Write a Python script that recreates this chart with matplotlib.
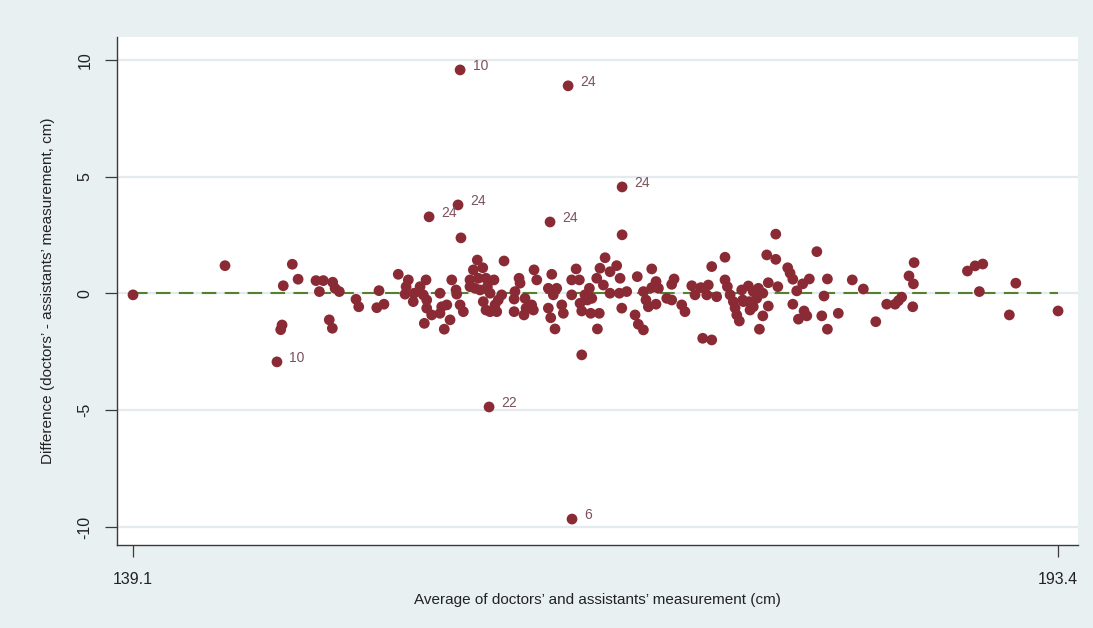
import matplotlib
matplotlib.use("Agg")
import matplotlib.pyplot as plt

plt.rcParams['font.family'] = ['Liberation Sans', 'DejaVu Sans']

# Bland-Altman data: mean of the two measurements (cm) and their difference (cm)
avg = [
    139.10, 144.50, 148.45, 147.92, 148.79, 149.84, 150.27, 150.82, 150.96, 150.04,
    151.21, 152.19, 152.35, 147.77, 147.85, 150.62, 150.80,
    153.54, 153.41, 153.83, 154.67, 155.26, 155.13, 155.07, 155.60, 155.55, 155.95,
    156.30, 156.14, 156.34, 156.34, 156.63, 156.20, 157.12, 157.22, 157.12, 157.52,
    157.81, 158.06, 158.10, 158.30, 158.49, 157.71, 157.37, 159.31, 159.63, 159.08,
    158.88, 159.37, 159.82, 160.29, 158.88, 159.18, 159.47, 159.90, 160.06, 159.66,
    159.82, 160.06, 160.35, 160.54, 160.45, 160.74, 160.88,
    161.76, 161.82, 161.52, 161.47, 161.47, 162.11, 162.17, 162.05, 162.50, 162.60,
    162.64, 162.80, 163.68, 163.48, 163.77, 163.97, 163.48, 163.62, 163.87, 164.27,
    164.36, 164.85, 165.11, 165.30, 164.85, 165.34, 165.44, 165.63, 165.89, 165.77,
    166.03, 165.97, 166.32, 166.51, 166.81, 166.47, 166.36, 166.71, 167.10, 167.49,
    167.10, 167.69, 167.65, 167.79, 165.44,
    168.08, 168.70, 169.55, 169.06, 169.21, 169.35, 169.55, 169.80, 169.94, 169.80,
    168.57, 168.76, 169.06, 170.43, 170.72, 170.72, 170.86, 171.31, 171.50, 171.90,
    172.09, 172.43, 172.87, 172.78, 173.07, 173.85, 173.36, 172.54, 173.07, 173.85,
    173.99, 174.15, 174.34, 174.54, 174.69, 174.89, 174.44,
    176.83, 176.30, 176.83, 179.24, 177.53, 177.67, 177.83, 178.41, 178.80, 179.86,
    181.32, 176.39, 176.95, 178.06, 179.66, 174.83, 175.22, 175.51, 175.81, 176.07,
    174.93, 175.28, 175.51, 175.71, 176.39, 175.32, 176.07, 177.83, 178.49, 178.65,
    178.16, 179.53, 180.50, 179.86, 175.87, 181.97,
    182.70, 183.34, 183.83, 184.03, 184.22, 184.65, 184.91, 184.95, 184.87, 188.08,
    188.53, 188.98, 188.78, 190.92, 190.54, 193.40,
    158.35, 167.81,
]
diff = [
    -0.06, 1.19, 1.25, 0.33, 0.61, 0.55, 0.55, 0.48, 0.22, 0.08,
    0.08, -0.25, -0.57, -1.55, -1.35, -1.13, -1.49,
    0.12, -0.61, -0.46, 0.82, 0.58, 0.29, -0.03, 0.01, -0.35, 0.29,
    0.58, -0.06, -0.28, -0.63, -0.92, -1.28, 0.01, -0.57, -0.85, -0.49,
    0.58, 0.15, -0.03, -0.49, -0.78, -1.13, -1.53, 1.43, 1.10, 1.01,
    0.58, 0.65, 0.65, 0.58, 0.29, 0.22, 0.15, 0.29, 0.01, -0.35,
    -0.71, -0.78, -0.49, -0.28, -0.78, -0.06, 1.39,
    0.65, 0.44, 0.08, -0.24, -0.78, -0.21, -0.63, -0.92, -0.49, -0.71,
    1.01, 0.58, 0.82, 0.22, -0.06, 0.22, -0.63, -1.04, -1.52, -0.49,
    -0.85, 0.58, 1.05, 0.58, -0.06, -0.42, -0.75, -0.06, 0.22, -0.28,
    -0.21, -0.85, 0.65, 1.08, 1.53, -0.85, -1.52, 0.36, 0.93, 1.19,
    0.01, 0.65, 0.01, -0.63, -2.63,
    0.08, 0.72, 1.05, 0.08, -0.28, -0.57, 0.25, 0.51, 0.22, -0.46,
    -0.92, -1.32, -1.56, -0.21, -0.28, 0.39, 0.62, -0.49, -0.78, 0.33,
    -0.06, 0.25, 0.36, -0.06, 1.15, 1.55, -0.14, -1.92, -1.99, 0.58,
    0.29, -0.06, -0.35, -0.92, -1.18, -0.28, -0.62,
    2.54, 1.65, 1.46, 1.79, 1.10, 0.87, 0.61, 0.41, 0.62, 0.62,
    0.58, 0.46, 0.29, 0.11, -0.11, 0.15, 0.32, 0.08, 0.22, 0.01,
    -0.35, -0.35, -0.57, -0.21, -0.54, -0.71, -0.96, -0.46, -0.75, -0.96,
    -1.10, -0.96, -0.85, -1.53, -1.53, 0.19,
    -1.21, -0.46, -0.46, -0.31, -0.16, 0.75, 0.41, 1.32, -0.57, 0.96,
    1.18, 1.26, 0.08, 0.44, -0.92, -0.75,
    2.38, 2.51,
]

# Outlying pairs, labelled with their observation group
lab_avg = [158.30, 164.64, 167.81, 158.18, 156.48, 163.58, 160.00, 164.87, 147.55]
lab_diff = [9.57, 8.89, 4.56, 3.79, 3.28, 3.06, -4.86, -9.66, -2.93]
lab_text = ["10", "24", "24", "24", "24", "24", "22", "6", "10"]

mean_diff = 0.04
x_ticks = [139.1, 193.4]
y_ticks = [-10, -5, 0, 5, 10]

bg = "#e9f0f2"
dot = "#8a2a34"

fig = plt.figure(figsize=(10.93, 6.28), dpi=100, facecolor=bg)
ax = fig.add_axes([117 / 1093, 1 - 545 / 628, (1078 - 117) / 1093, (545 - 37) / 628])
ax.set_facecolor("white")

ax.set_xlim(138.16, 194.57)
ax.set_ylim(-10.77, 10.98)

for yv in y_ticks:
    ax.axhline(yv, color="#e4ebee", lw=1.6, zorder=0)

ax.plot([min(avg + lab_avg), max(avg + lab_avg)], [mean_diff, mean_diff],
        color="#55802e", lw=1.5, dashes=(7, 4), zorder=1)

ax.scatter(avg, diff, s=60, color=dot, edgecolors="none", zorder=3)
ax.scatter(lab_avg, lab_diff, s=60, color=dot, edgecolors="none", zorder=3)
for xv, yv, t in zip(lab_avg, lab_diff, lab_text):
    ax.annotate(t, (xv, yv), xytext=(9, 3), textcoords="offset points",
                ha="left", va="center", fontsize=10, color="#7a525c")

ax.spines["top"].set_visible(False)
ax.spines["right"].set_visible(False)
for s in ("left", "bottom"):
    ax.spines[s].set_color("#3a3a3a")
    ax.spines[s].set_linewidth(1.0)

ax.set_xticks(x_ticks)
ax.set_xticklabels(["139.1", "193.4"])
ax.set_yticks(y_ticks)
ax.set_yticklabels([str(v) for v in y_ticks], rotation=90, va="center")
ax.tick_params(axis="both", length=8.5, width=0.9, color="#3a3a3a",
               labelsize=11.5, labelcolor="#222222")
ax.tick_params(axis="x", pad=11)
ax.tick_params(axis="y", pad=9)

ax.set_xlabel("Average of doctors\u2019 and assistants\u2019 measurement (cm)",
              fontsize=11, color="#222222", labelpad=4)
ax.set_ylabel("Difference (doctors\u2019 - assistants\u2019 measurement, cm)",
              fontsize=11, color="#222222", labelpad=16)

fig.savefig("out.png", dpi=100, facecolor=bg)
